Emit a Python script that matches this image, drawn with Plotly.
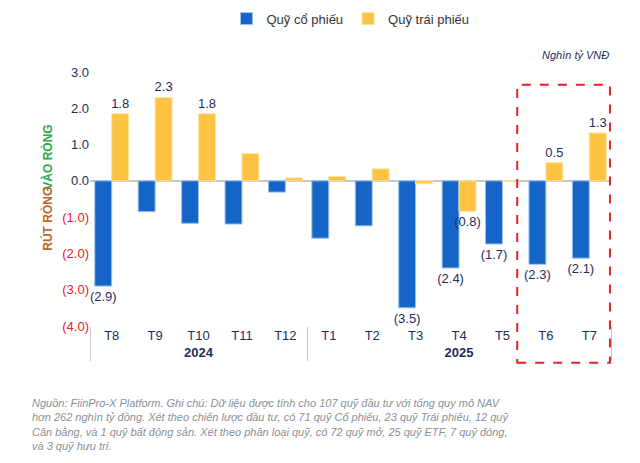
import plotly.graph_objects as go

months = ["T8","T9","T10","T11","T12","T1","T2","T3","T4","T5","T6","T7"]
years = ["<b>2024</b>"]*5 + ["<b>2025</b>"]*7
equity = [-2.9,-0.85,-1.17,-1.19,-0.31,-1.58,-1.24,-3.5,-2.4,-1.74,-2.3,-2.13]
bond = [1.85,2.3,1.85,0.75,0.08,0.12,0.33,-0.08,-0.84,-0.02,0.5,1.32]
equity_lbl = ["(2.9)","","","","","","","(3.5)","(2.4)","(1.7)","(2.3)","(2.1)"]
bond_lbl = ["1.8","2.3","1.8","","","","","","(0.8)","","0.5","1.3"]
tickvals = [3,2,1,0,-1,-2,-3,-4]
ticktext = ["3.0","2.0","1.0","0.0","(1.0)","(2.0)","(3.0)","(4.0)"]

navy = "#1f2d5c"
ttext = [t if v >= 0 else f"<span style='color:#e8202a'>{t}</span>" for t, v in zip(ticktext, tickvals)]

fig = go.Figure()
fig.add_bar(x=[years, months], y=equity, name="Quỹ cổ phiếu", marker=dict(color="#1565c8", line=dict(color="#9cc3ee", width=1)),
            text=equity_lbl, textposition="outside", constraintext="none",
            textfont=dict(color=navy, size=13), cliponaxis=False)
fig.add_bar(x=[years, months], y=bond, name="Quỹ trái phiếu", marker=dict(color="#fcc442", line=dict(color="#fde3a0", width=1)),
            text=bond_lbl, textposition="outside", constraintext="none",
            textfont=dict(color=navy, size=13), cliponaxis=False)

fig.update_layout(
    width=640, height=463, plot_bgcolor="white", paper_bgcolor="white",
    margin=dict(l=82, r=37, t=64, b=145, autoexpand=False),
    font=dict(family="Arial, Liberation Sans", color=navy, size=12),
    barmode="group", bargap=0.22, bargroupgap=0.0,
    legend=dict(orientation="h", x=0.5, xanchor="center", y=1.21, yanchor="middle", font=dict(size=13, color="#333")),
    yaxis=dict(range=[-4, 3], tickvals=tickvals, ticktext=ttext, showgrid=False, zeroline=True,
               zerolinecolor="#c8c8c8", zerolinewidth=1.5, tickfont=dict(size=13, color=navy), automargin=False),
    xaxis=dict(showgrid=False, showline=False, tickfont=dict(size=13, color=navy), showdividers=True,
               dividercolor="#c8c8c8", tickson="boundaries", automargin=False),
)
fig.add_shape(type="rect", xref="paper", yref="paper", x0=0.82, x1=0.998, y0=-0.145, y1=0.95,
              line=dict(color="#e8202a", width=2, dash="dash"))
fig.add_annotation(text="<i>Nghìn tỷ VNĐ</i>", xref="paper", yref="paper", x=1.0, y=1.1, showarrow=False,
                   xanchor="right", font=dict(size=11, color=navy))
fig.add_annotation(text="<b>VÀO RÒNG</b>", xref="paper", yref="paper", x=-0.1, y=0.8, showarrow=False,
                   textangle=-90, font=dict(size=12, color="#2aa84a"))
fig.add_annotation(text="<b>RÚT RÒNG</b>", xref="paper", yref="paper", x=-0.1, y=0.29, showarrow=False,
                   textangle=-90, font=dict(size=12, color="#c0662a"))
fig.add_annotation(
    text="<i>Nguồn: FiinPro-X Platform. Ghi chú: Dữ liệu được tính cho 107 quỹ đầu tư với tổng quy mô NAV<br>"
         "hơn 262 nghìn tỷ đồng. Xét theo chiến lược đầu tư, có 71 quỹ Cổ phiếu, 23 quỹ Trái phiếu, 12 quỹ<br>"
         "Cân bằng, và 1 quỹ bất động sản. Xét theo phân loại quỹ, có 72 quỹ mở, 25 quỹ ETF, 7 quỹ đóng,<br>"
         "và 3 quỹ hưu trí.</i>",
    xref="paper", yref="paper", x=-0.115, y=-0.27, xanchor="left", yanchor="top", align="left",
    showarrow=False, font=dict(size=11, color="#8a9099"))
fig.write_html("out.html")
